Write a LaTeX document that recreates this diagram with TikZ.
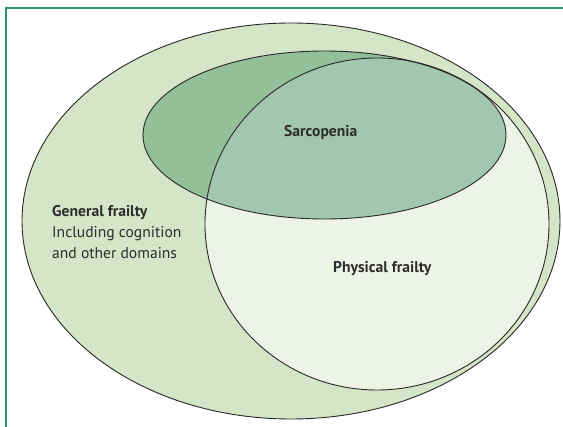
\documentclass[tikz,border=0pt]{standalone}
\usepackage{fontspec}
\setmainfont{PT Sans}
\definecolor{outerfill}{RGB}{213,229,199}
\definecolor{sarcfill}{RGB}{147,192,153}
\definecolor{overlapfill}{RGB}{162,198,175}
\definecolor{physfill}{RGB}{237,244,230}
\definecolor{framegreen}{RGB}{42,150,104}
\definecolor{textgray}{RGB}{45,45,45}
\definecolor{edgegray}{RGB}{40,40,40}
\begin{document}
\begin{tikzpicture}[x=1pt,y=-1pt,
  edge/.style={draw=edgegray,line width=0.9pt},
  lbl/.style={anchor=base west,inner sep=0pt,text=textgray,font=\fontsize{15.6}{21}\selectfont},
  blbl/.style={lbl,font=\fontsize{15.6}{21}\selectfont\bfseries}]
\useasboundingbox (0,0) rectangle (563,427);
\fill[white] (0,0) rectangle (563,427);
% frame
\draw[framegreen,line width=1.4pt] (6,427) -- (6,8) -- (563,8);
% fills
\fill[outerfill] (291,221) ellipse [x radius=269pt, y radius=198pt];
\fill[sarcfill] (324.5,135) ellipse [x radius=181.5pt, y radius=84pt];
\fill[physfill] (377,224) ellipse [x radius=172pt, y radius=166pt];
\begin{scope}
  \clip (377,224) ellipse [x radius=172pt, y radius=166pt];
  \fill[overlapfill] (324.5,135) ellipse [x radius=181.5pt, y radius=84pt];
\end{scope}
% outlines
\draw[edge] (291,221) ellipse [x radius=269pt, y radius=198pt];
\draw[edge] (324.5,135) ellipse [x radius=181.5pt, y radius=84pt];
\draw[edge] (377,224) ellipse [x radius=172pt, y radius=166pt];
% labels
\node[blbl] (sarc) at (284,137) {Sarcopenia};
\node[blbl] (phys) at (333,273) {Physical frailty};
\node[blbl] (gen) at (52,217) {General frailty};
\node[lbl] (gen2) at (52,238) {Including cognition};
\node[lbl] (gen3) at (52,259) {and other domains};
\end{tikzpicture}
\end{document}
